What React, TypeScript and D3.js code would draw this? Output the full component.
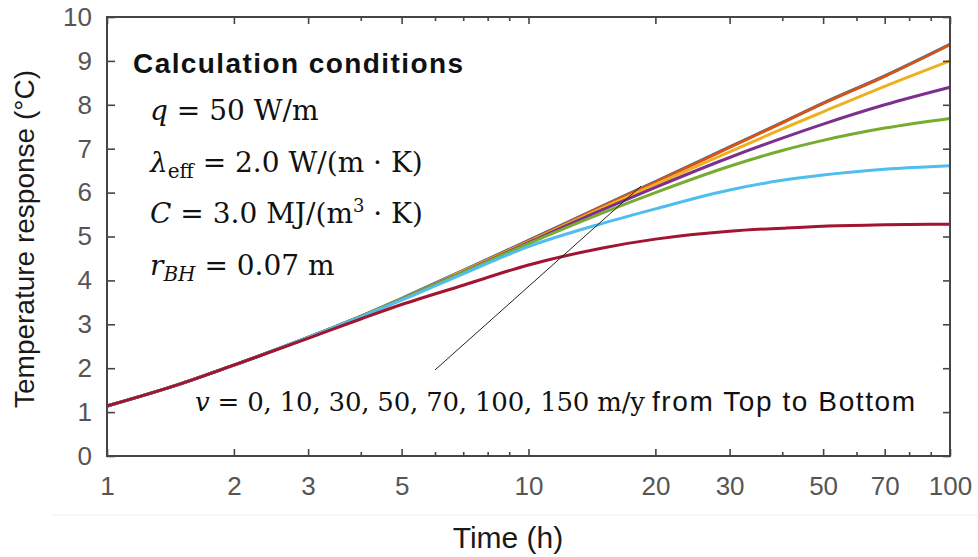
import { useEffect, useRef } from 'react';
import * as d3 from 'd3';

const times = [1, 1.5, 2, 3, 4, 5, 7, 10, 15, 20, 30, 40, 50, 70, 100];

// temperature response (°C) per groundwater velocity (m/y)
const v0 = [1.14, 1.65, 2.07, 2.7, 3.18, 3.59, 4.23, 4.91, 5.7, 6.25, 7.04, 7.6, 8.04, 8.66, 9.38];
const v10 = [1.14, 1.65, 2.07, 2.7, 3.18, 3.58, 4.22, 4.9, 5.69, 6.24, 7.03, 7.59, 8.03, 8.65, 9.37];
const v30 = [1.14, 1.65, 2.07, 2.7, 3.18, 3.58, 4.21, 4.88, 5.65, 6.19, 6.93, 7.45, 7.84, 8.42, 9.0];
const v50 = [1.14, 1.65, 2.07, 2.7, 3.18, 3.57, 4.19, 4.86, 5.61, 6.12, 6.8, 7.24, 7.56, 8.0, 8.4];
const v70 = [1.14, 1.65, 2.07, 2.7, 3.18, 3.57, 4.18, 4.84, 5.54, 6.0, 6.6, 6.96, 7.19, 7.47, 7.69];
const v100 = [1.14, 1.65, 2.07, 2.7, 3.17, 3.55, 4.15, 4.77, 5.3, 5.63, 6.06, 6.28, 6.4, 6.53, 6.61];
const v150 = [1.14, 1.65, 2.07, 2.68, 3.12, 3.45, 3.89, 4.35, 4.74, 4.94, 5.12, 5.19, 5.235, 5.265, 5.28];

const seriesValues = [v0, v10, v30, v50, v70, v100, v150];
const seriesColors = ['#0072BD', '#D95319', '#EDB120', '#7E2F8E', '#77AC30', '#4DBEEE', '#A2142F'];

const yTicks = [0, 1, 2, 3, 4, 5, 6, 7, 8, 9, 10];
const xMajorTicks = [1, 2, 3, 5, 10, 20, 30, 50, 70, 100];
const xMinorTicks = [4, 6, 7, 8, 9, 40, 60, 80, 90];

// leader line for the velocity note, in data units [time, temperature]
const leader = [
  [6, 1.96],
  [18.5, 6.15],
];

const W = 978;
const H = 557;
const margin = { top: 17, right: 28, bottom: 101, left: 107 };
const axisColor = '#454545';
const tickText = '#555';
const sans = '"Liberation Sans", Arial, sans-serif';
const serif = '"DejaVu Serif", "Liberation Serif", serif';

function ResponseChart() {
  const svgRef = useRef<SVGSVGElement>(null);

  useEffect(() => {
    const root = d3.select(svgRef.current);
    root.selectAll('*').remove();

    const width = W - margin.left - margin.right;
    const height = H - margin.top - margin.bottom;

    const x = d3.scaleLog().domain([1, 100]).range([0, width]);
    const y = d3.scaleLinear().domain([0, 10]).range([height, 0]);

    // faint separator left over from the pasted figure
    root
      .append('line')
      .attr('x1', 52)
      .attr('x2', W)
      .attr('y1', 515)
      .attr('y2', 515)
      .attr('stroke', '#f5f5f5')
      .attr('stroke-width', 1.5);

    const svg = root.append('g').attr('transform', `translate(${margin.left},${margin.top})`);

    const line = d3
      .line<number[]>()
      .x(d => x(d[0]))
      .y(d => y(d[1]))
      .curve(d3.curveMonotoneX);

    seriesValues.forEach((vals, i) => {
      svg
        .append('path')
        .datum(times.map((t, j) => [t, vals[j]]))
        .attr('d', line)
        .attr('fill', 'none')
        .attr('stroke', seriesColors[i])
        .attr('stroke-width', 3)
        .attr('stroke-linejoin', 'round');
    });

    const styleAxis = (sel: any, labels: boolean) => {
      sel.select('.domain').remove();
      sel.selectAll('line').attr('stroke', axisColor).attr('stroke-width', 1.6);
      if (labels) {
        sel
          .selectAll('text')
          .attr('fill', tickText)
          .style('font-family', sans)
          .style('font-size', '26px');
      } else {
        sel.selectAll('text').remove();
      }
    };

    // bottom
    svg
      .append('g')
      .attr('transform', `translate(0,${height})`)
      .call(d3.axisBottom(x).tickValues(xMajorTicks).tickFormat(d3.format('d')).tickSize(-7).tickPadding(21))
      .call((s: any) => styleAxis(s, true));
    svg
      .append('g')
      .attr('transform', `translate(0,${height})`)
      .call(d3.axisBottom(x).tickValues(xMinorTicks).tickSize(-4))
      .call((s: any) => styleAxis(s, false));
    // top
    svg
      .append('g')
      .call(d3.axisTop(x).tickValues(xMajorTicks).tickSize(-7))
      .call((s: any) => styleAxis(s, false));
    svg
      .append('g')
      .call(d3.axisTop(x).tickValues(xMinorTicks).tickSize(-4))
      .call((s: any) => styleAxis(s, false));
    // left
    svg
      .append('g')
      .call(d3.axisLeft(y).tickValues(yTicks).tickFormat(d3.format('d')).tickSize(-8).tickPadding(15))
      .call((s: any) => styleAxis(s, true));
    // right
    svg
      .append('g')
      .attr('transform', `translate(${width},0)`)
      .call(d3.axisRight(y).tickValues(yTicks).tickSize(-7))
      .call((s: any) => styleAxis(s, false));

    svg
      .append('rect')
      .attr('width', width)
      .attr('height', height)
      .attr('fill', 'none')
      .attr('stroke', axisColor)
      .attr('stroke-width', 2);

    // leader line
    svg
      .append('line')
      .attr('x1', x(leader[0][0]))
      .attr('y1', y(leader[0][1]))
      .attr('x2', x(leader[1][0]))
      .attr('y2', y(leader[1][1]))
      .attr('stroke', '#222')
      .attr('stroke-width', 1);

    // axis titles
    root
      .append('text')
      .attr('transform', 'translate(34,239) rotate(-90)')
      .attr('text-anchor', 'middle')
      .attr('fill', '#1a1a1a')
      .style('font-family', sans)
      .style('font-size', '28px')
      .text('Temperature response (°C)');
    root
      .append('text')
      .attr('x', 508)
      .attr('y', 548)
      .attr('text-anchor', 'middle')
      .attr('fill', '#1a1a1a')
      .style('font-family', sans)
      .style('font-size', '30px')
      .text('Time (h)');

    // calculation conditions
    root
      .append('text')
      .attr('x', 133)
      .attr('y', 73)
      .attr('fill', '#111')
      .attr('textLength', 330)
      .style('font-family', sans)
      .style('font-size', '28px')
      .style('font-weight', 'bold')
      .text('Calculation conditions');

    const mathLine = (yPos: number) =>
      root
        .append('text')
        .attr('x', 150)
        .attr('y', yPos)
        .attr('fill', '#111')
        .style('font-family', serif)
        .style('font-size', '28px');

    const l1 = mathLine(120);
    l1.append('tspan').style('font-style', 'italic').text('q');
    l1.append('tspan').text(' = 50 W/m');

    const l2 = mathLine(172);
    l2.append('tspan').style('font-style', 'italic').text('λ');
    l2.append('tspan').attr('dy', 6).style('font-size', '20px').text('eff');
    l2.append('tspan').attr('dy', -6).text(' = 2.0 W/(m · K)');

    const l3 = mathLine(223);
    l3.append('tspan').style('font-style', 'italic').text('C');
    l3.append('tspan').text(' = 3.0 MJ/(m');
    l3.append('tspan').attr('dy', -11).style('font-size', '18px').text('3');
    l3.append('tspan').attr('dy', 11).text(' · K)');

    const l4 = mathLine(275);
    l4.append('tspan').style('font-style', 'italic').text('r');
    l4.append('tspan').attr('dy', 6).style('font-size', '20px').style('font-style', 'italic').text('BH');
    l4.append('tspan').attr('dy', -6).text(' = 0.07 m');

    // velocity note
    const note = root
      .append('text')
      .attr('x', 195)
      .attr('y', 411)
      .attr('fill', '#111')
      .attr('textLength', 450)
      .style('font-family', serif)
      .style('font-size', '26px');
    note.append('tspan').style('font-style', 'italic').text('v');
    note.append('tspan').text(' = 0, 10, 30, 50, 70, 100, 150 m/y');

    root
      .append('text')
      .attr('x', 652)
      .attr('y', 411)
      .attr('fill', '#111')
      .attr('textLength', 263)
      .style('font-family', sans)
      .style('font-size', '28px')
      .text('from Top to Bottom');
  }, []);

  return (
    <svg
      ref={svgRef}
      width={W}
      height={H}
      style={{ position: 'absolute', left: 0, top: 0, background: '#fff', display: 'block' }}
    />
  );
}

export default function App() {
  return <ResponseChart />;
}
